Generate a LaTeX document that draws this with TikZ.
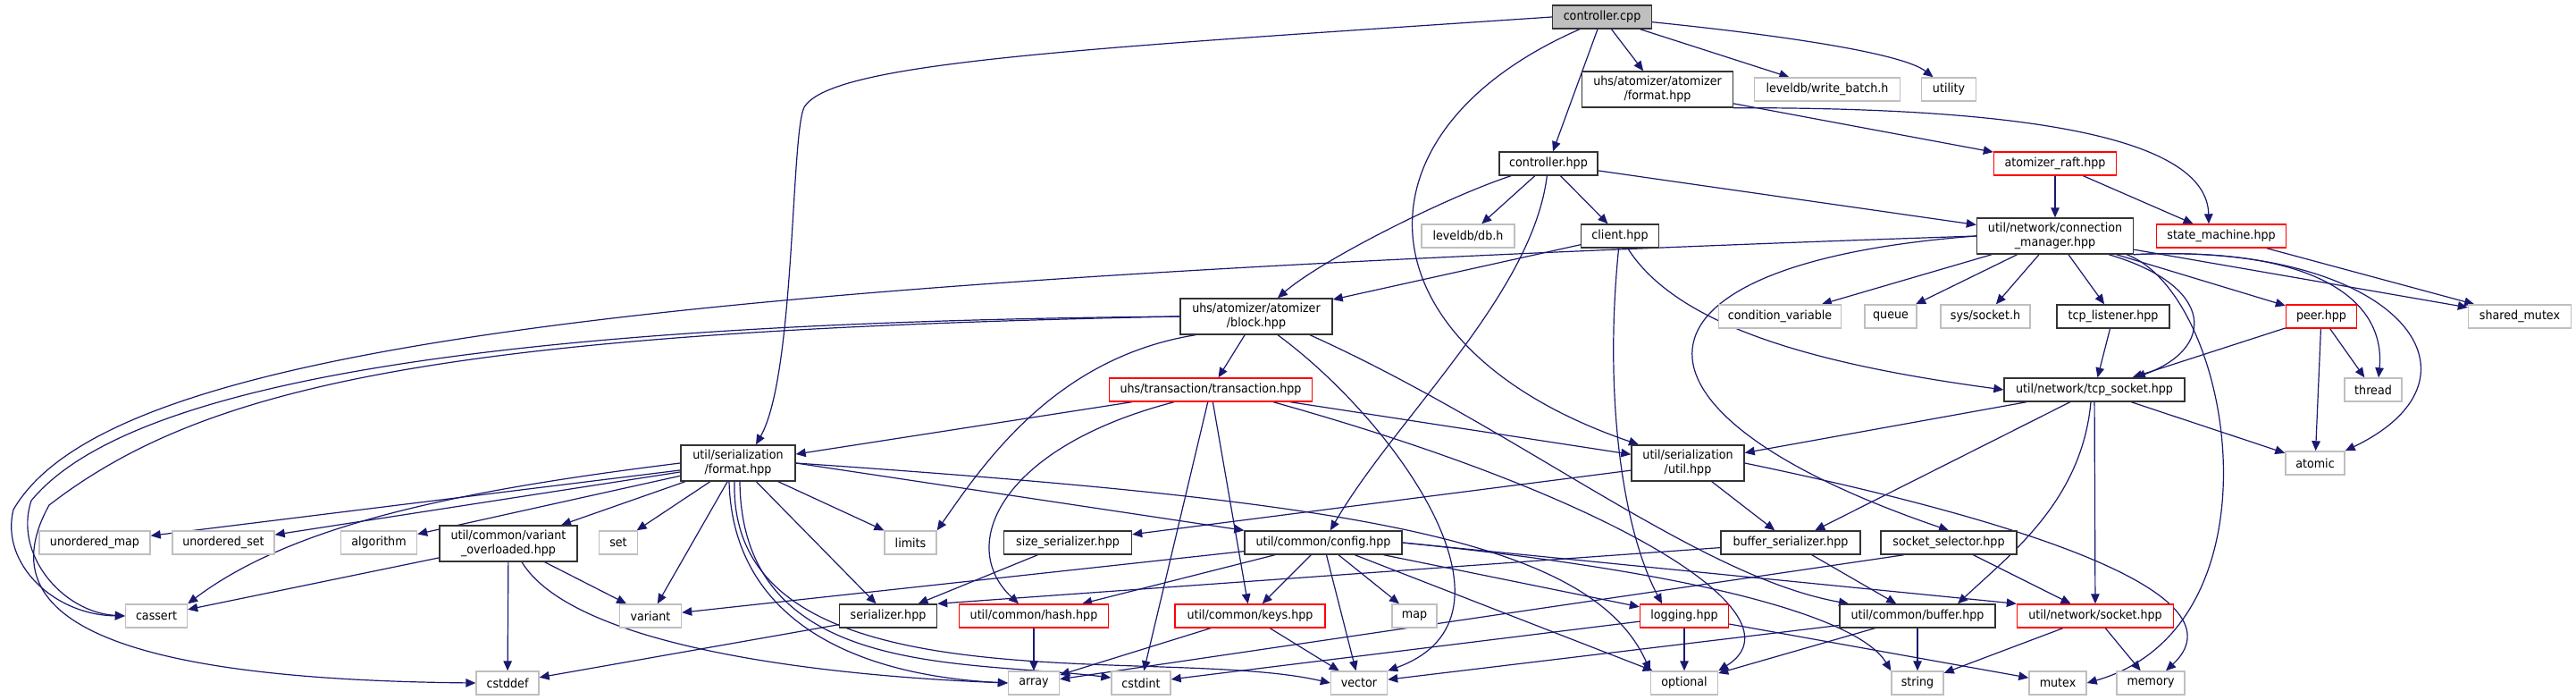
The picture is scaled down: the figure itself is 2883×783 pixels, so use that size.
\documentclass[tikz,border=0pt]{standalone}
\usepackage{fontspec}
\setmainfont{DejaVu Sans}[FakeStretch=0.92]
\usepackage{xcolor}
\usetikzlibrary{arrows.meta,backgrounds}

\definecolor{edgeblue}{RGB}{25,25,112}
\definecolor{lightframe}{RGB}{191,191,191}

\tikzset{
  incbox/.style={draw, line width=1.4pt, fill=white, inner sep=0pt,
    minimum height=26pt, align=center, font=\fontsize{13.8}{16}\selectfont},
  hdr/.style={incbox, draw=black!80},
  sysinc/.style={incbox, draw=lightframe},
  trunc/.style={incbox, draw=red},
  rootbox/.style={incbox, draw=black!80, fill=lightframe},
  twoline/.style={minimum height=40pt},
  inc/.style={draw=edgeblue, line width=1.2pt, -{Triangle[length=11pt,width=9.5pt]}}
}

\begin{document}
\begin{tikzpicture}[x=1pt,y=-1pt]

\begin{scope}[on background layer]
\fill[white] (0,0) rectangle (2883,783);
\end{scope}
\useasboundingbox (0,0) rectangle (2883,783);

% Top rows
\node[rootbox, minimum width=111pt] (cpp) at (1793,19) {controller.cpp};
\node[hdr, twoline, minimum width=169pt] (afmt) at (1855,100) {uhs/atomizer/atomizer\\/format.hpp};
\node[sysinc, minimum width=163pt] (wbatch) at (2045,100) {leveldb/write\_batch.h};
\node[sysinc, minimum width=61pt] (utility) at (2181,100) {utility};
\node[hdr, minimum width=110pt] (chpp) at (1733,183) {controller.hpp};
\node[trunc, minimum width=137pt] (raft) at (2300,183) {atomizer\_raft.hpp};
\node[sysinc, minimum width=104pt] (dbh) at (1643,264) {leveldb/db.h};
\node[hdr, minimum width=87pt] (client) at (1813,264) {client.hpp};
\node[hdr, twoline, minimum width=175pt] (cmgr) at (2300,264) {util/network/connection\\\_manager.hpp};
\node[trunc, minimum width=145pt] (smach) at (2486,264) {state\_machine.hpp};

% Middle rows
\node[hdr, twoline, minimum width=170pt] (block) at (1406,354) {uhs/atomizer/atomizer\\/block.hpp};
\node[sysinc, minimum width=137pt] (condvar) at (1992,354) {condition\_variable};
\node[sysinc, minimum width=58pt] (queue) at (2116,354) {queue};
\node[sysinc, minimum width=100pt] (socketh) at (2222,354) {sys/socket.h};
\node[hdr, minimum width=126pt] (tcplis) at (2365,354) {tcp\_listener.hpp};
\node[trunc, minimum width=79pt] (peer) at (2598,354) {peer.hpp};
\node[sysinc, minimum width=115pt] (shmutex) at (2820,354) {shared\_mutex};
\node[trunc, minimum width=227pt] (tx) at (1355,436) {uhs/transaction/transaction.hpp};
\node[hdr, minimum width=202pt] (tcpsock) at (2344,436) {util/network/tcp\_socket.hpp};
\node[sysinc, minimum width=64pt] (thread) at (2656,436) {thread};
\node[hdr, twoline, minimum width=128pt] (sfmt) at (826,518) {util/serialization\\/format.hpp};
\node[hdr, twoline, minimum width=126pt] (sutil) at (1889,518) {util/serialization\\/util.hpp};
\node[sysinc, minimum width=66pt] (atomic) at (2591,518) {atomic};

% Lower rows
\node[sysinc, minimum width=124pt] (umap) at (106,607) {unordered\_map};
\node[sysinc, minimum width=114pt] (uset) at (250,607) {unordered\_set};
\node[sysinc, minimum width=85pt] (algo) at (424,607) {algorithm};
\node[hdr, twoline, minimum width=154pt] (varov) at (569,608) {util/common/variant\\\_overloaded.hpp};
\node[sysinc, minimum width=43pt] (set) at (692,607) {set};
\node[sysinc, minimum width=58pt] (limits) at (1019,607) {limits};
\node[hdr, minimum width=143pt] (sizeser) at (1195,607) {size\_serializer.hpp};
\node[hdr, minimum width=176pt] (config) at (1481,607) {util/common/config.hpp};
\node[hdr, minimum width=156pt] (bufser) at (2004,607) {buffer\_serializer.hpp};
\node[hdr, minimum width=152pt] (socksel) at (2181,607) {socket\_selector.hpp};
\node[sysinc, minimum width=69pt] (cassert) at (175,689) {cassert};
\node[sysinc, minimum width=69pt] (variant) at (728,689) {variant};
\node[hdr, minimum width=109pt] (serializer) at (994,689) {serializer.hpp};
\node[trunc, minimum width=167pt] (hash) at (1157,689) {util/common/hash.hpp};
\node[trunc, minimum width=168pt] (keys) at (1399,689) {util/common/keys.hpp};
\node[sysinc, minimum width=50pt] (map) at (1583,689) {map};
\node[trunc, minimum width=99pt] (logging) at (1885,689) {logging.hpp};
\node[hdr, minimum width=174pt] (buffer) at (2146,689) {util/common/buffer.hpp};
\node[trunc, minimum width=175pt] (socket) at (2345,689) {util/network/socket.hpp};
\node[sysinc, minimum width=70pt] (cstddef) at (568,764) {cstddef};
\node[sysinc, minimum width=57pt] (array) at (1157,764) {array};
\node[sysinc, minimum width=66pt] (cstdint) at (1277,764) {cstdint};
\node[sysinc, minimum width=63pt] (vector) at (1521,764) {vector};
\node[sysinc, minimum width=75pt] (optional) at (1885,764) {optional};
\node[sysinc, minimum width=58pt] (string) at (2146,764) {string};
\node[sysinc, minimum width=64pt] (mutex) at (2303,764) {mutex};
\node[sysinc, minimum width=76pt] (memory) at (2407,764) {memory};

\begin{scope}[on background layer]
% controller.cpp
\draw[inc] (cpp.west) .. controls (1200,55) and (930,70) .. (900,120) .. controls (885,150) and (890,420) .. ([xshift=20pt]sfmt.north);
\draw[inc] (cpp) -- (afmt);
\draw[inc] (cpp) -- (wbatch);
\draw[inc] (cpp) .. controls (2000,40) and (2130,60) .. (utility);
\draw[inc] (cpp) -- (chpp);
\draw[inc] ([xshift=-25pt]cpp.south) .. controls (1500,150) and (1520,390) .. ([xshift=-55pt]sutil.north);

% atomizer format / raft / state machine
\draw[inc] (afmt) -- (raft);
\draw[inc] (afmt.south east) .. controls (2250,120) and (2470,150) .. ([xshift=-14pt]smach.north);
\draw[inc] (raft) -- (cmgr);
\draw[inc] (raft) -- (smach);
\draw[inc] (smach) -- (shmutex);

% controller.hpp and client.hpp
\draw[inc] (chpp) -- (dbh);
\draw[inc] (chpp) -- (client);
\draw[inc] (chpp) .. controls (1620,220) and (1480,290) .. (block);
\draw[inc] (chpp) -- (cmgr);
\draw[inc] (chpp) .. controls (1715,330) and (1560,470) .. (config);
\draw[inc] (client) -- (block);
\draw[inc] (client) .. controls (1795,440) and (1815,590) .. ([xshift=-25pt]logging.north);
\draw[inc] (client) .. controls (1880,370) and (2050,410) .. (tcpsock.west);

% connection manager
\draw[inc] (cmgr.west) .. controls (700,315) and (120,390) .. (15,570) .. controls (0,630) and (60,688) .. (cassert.west);
\draw[inc] (cmgr) -- (condvar);
\draw[inc] (cmgr) -- (queue);
\draw[inc] (cmgr) -- (socketh);
\draw[inc] (cmgr) -- (tcplis);
\draw[inc] (cmgr) -- (peer);
\draw[inc] (cmgr) -- (shmutex);
\draw[inc] (cmgr.south east) .. controls (2600,275) and (2670,340) .. ([xshift=6pt]thread.north);
\draw[inc] (cmgr.south east) .. controls (2680,270) and (2800,420) .. (atomic.north east);
\draw[inc] ([xshift=60pt]cmgr.south) .. controls (2480,320) and (2480,390) .. ([xshift=46pt]tcpsock.north);
\draw[inc] (cmgr.west) .. controls (1800,295) and (1790,460) .. (socksel.north);
\draw[inc] ([xshift=80pt]cmgr.south) .. controls (2500,330) and (2560,700) .. (mutex.east);

% block.hpp
\draw[inc] (block) -- (tx);
\draw[inc] (block.west) .. controls (600,360) and (150,420) .. (35,560) .. controls (15,620) and (70,685) .. (cassert.west);
\draw[inc] (block.west) .. controls (500,370) and (230,430) .. (55,565) .. controls (-20,700) and (150,760) .. (cstddef.west);
\draw[inc] ([xshift=-68pt]block.south) .. controls (1180,400) and (1100,520) .. (limits.north east);
\draw[inc] ([xshift=24pt]block.south) .. controls (1560,470) and (1720,690) .. (vector.north east);
\draw[inc] ([xshift=60pt]block.south) .. controls (1700,480) and (1900,645) .. ([xshift=-77pt]buffer.north);

% listener, peer, socket
\draw[inc] (tcplis) -- (tcpsock);
\draw[inc] (peer) -- (tcpsock);
\draw[inc] (peer) -- (thread);
\draw[inc] (peer) -- (atomic);
\draw[inc] (tcpsock) -- (sutil);
\draw[inc] (tcpsock) -- (bufser);
\draw[inc] ([xshift=-4pt]tcpsock.south) .. controls (2330,560) and (2250,620) .. ([xshift=45pt]buffer.north);
\draw[inc] (tcpsock) -- (socket);
\draw[inc] (tcpsock) -- (atomic);

% transaction.hpp
\draw[inc] (tx) -- (sfmt);
\draw[inc] (tx) -- (sutil);
\draw[inc] ([xshift=-41pt]tx.south) .. controls (1120,500) and (1070,610) .. ([xshift=-17pt]hash.north);
\draw[inc] (tx) -- (cstdint);
\draw[inc] (tx) -- (keys);
\draw[inc] ([xshift=70pt]tx.south) .. controls (1820,560) and (2020,690) .. (optional.north east);

% serialization format.hpp
\draw[inc] (sfmt) -- (umap);
\draw[inc] (sfmt) -- (uset);
\draw[inc] (sfmt) -- (algo);
\draw[inc] (sfmt.west) .. controls (520,548) and (330,585) .. (cassert.north east);
\draw[inc] (sfmt) -- (varov);
\draw[inc] (sfmt) -- (set);
\draw[inc] (sfmt) -- (variant);
\draw[inc] ([xshift=-10pt]sfmt.south) .. controls (820,690) and (950,755) .. (array.west);
\draw[inc] ([xshift=2pt]sfmt.south) .. controls (830,760) and (1080,738) .. ([yshift=6pt]cstdint.west);
\draw[inc] ([xshift=-4pt]sfmt.south) .. controls (815,800) and (1300,720) .. (vector.west);
\draw[inc] (sfmt) -- (serializer);
\draw[inc] (sfmt) -- (limits);
\draw[inc] (sfmt.east) -- (config.north west);
\draw[inc] (sfmt.east) .. controls (1500,560) and (1780,600) .. (optional.north west);

% serialization util.hpp, variant_overloaded.hpp
\draw[inc] (sutil) -- (sizeser);
\draw[inc] (sutil) -- (bufser);
\draw[inc] (sutil.east) .. controls (2300,590) and (2510,670) .. ([xshift=17pt]memory.north);
\draw[inc] (varov) -- (cassert);
\draw[inc] (varov) -- (cstddef);
\draw[inc] (varov) -- (variant);
\draw[inc] ([xshift=15pt]varov.south) .. controls (640,720) and (900,755) .. (array.west);

% serializers and selector
\draw[inc] (sizeser) -- (serializer);
\draw[inc] (bufser) -- (serializer.north east);
\draw[inc] (bufser) -- (buffer);
\draw[inc] (socksel) -- (socket);
\draw[inc] ([xshift=-50pt]socksel.south) -- (array);

% config.hpp
\draw[inc] (config) -- (variant);
\draw[inc] (config) -- (hash);
\draw[inc] (config) -- (keys);
\draw[inc] (config) -- (map);
\draw[inc] (config) -- (vector);
\draw[inc] (config) -- (optional);
\draw[inc] (config) -- (logging);
\draw[inc] (config.east) -- (socket.north west);
\draw[inc] (config.east) .. controls (1900,640) and (2080,690) .. (string.north west);

% bottom row headers
\draw[inc] (logging) -- (cstdint);
\draw[inc] (logging) -- (optional);
\draw[inc] (logging) -- (mutex);
\draw[inc] (buffer) -- (vector);
\draw[inc] (buffer) -- (optional);
\draw[inc] (buffer) -- (string);
\draw[inc] (socket) -- (string);
\draw[inc] (socket) -- (memory);
\draw[inc] (hash) -- (array);
\draw[inc] (keys) -- (array);
\draw[inc] (keys) -- (vector);
\draw[inc] (serializer) -- (cstddef);
\end{scope}

\end{tikzpicture}
\end{document}
